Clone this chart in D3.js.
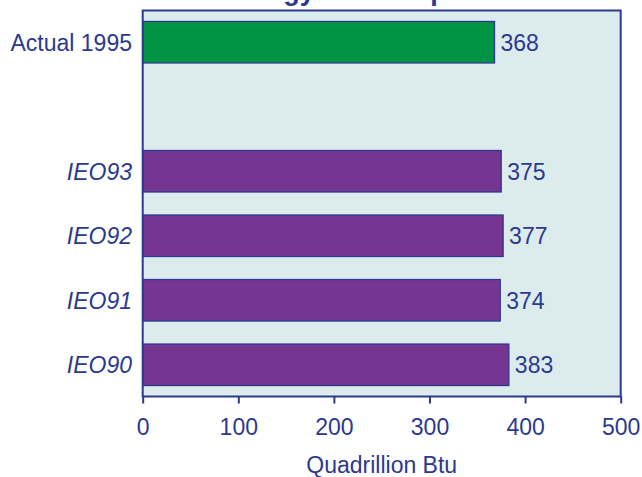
<!DOCTYPE html>
<html>
<head>
<meta charset="utf-8">
<script src="https://cdn.jsdelivr.net/npm/d3@7"></script>
<style>
  html, body { margin: 0; padding: 0; background: #ffffff; }
  svg { display: block; font-family: "Liberation Sans", Arial, Helvetica, sans-serif; }
</style>
</head>
<body>
<svg id="chart" width="642" height="477"></svg>
<script>
// ---- data ----
const title = "World Energy Consumption";
const categories = ["Actual 1995", "", "IEO93", "IEO92", "IEO91", "IEO90"];
const values = [368, null, 375, 377, 374, 383];
const seriesKind = ["actual", null, "forecast", "forecast", "forecast", "forecast"];
const xTicks = [0, 100, 200, 300, 400, 500];
const xLabel = "Quadrillion Btu";

// ---- styles ----
const textColor = "#2b3990";
const borderColor = "#2b3990";
const plotBg = "#dcecec";
const kindColor = { actual: "#009444", forecast: "#773592" };
const fs = 23;

const svg = d3.select("#chart");
const plot = { left: 142.7, right: 620.7, top: 10.5, bottom: 396.5 };

const x = d3.scaleLinear().domain([0, 500]).range([plot.left, plot.right]);
const y = d3.scaleBand()
  .domain(categories.map((c, i) => i))
  .range([plot.top, plot.bottom])
  .paddingInner(0.357)
  .paddingOuter(0.17);

// title (clipped at top as in reference)
svg.append("text")
  .attr("x", 318).attr("y", -0.5)
  .attr("text-anchor", "middle")
  .attr("font-size", 27).attr("font-weight", "bold")
  .attr("fill", textColor)
  .text(title);

// plot background
svg.append("rect")
  .attr("x", plot.left).attr("y", plot.top)
  .attr("width", plot.right - plot.left).attr("height", plot.bottom - plot.top)
  .attr("fill", plotBg);

const rows = categories.map((c, i) => ({ c, i, v: values[i], k: seriesKind[i] }))
  .filter(d => d.v != null);

// bars
svg.append("g").selectAll("rect").data(rows).join("rect")
  .attr("x", x(0))
  .attr("y", d => y(d.i))
  .attr("width", d => x(d.v) - x(0))
  .attr("height", y.bandwidth())
  .attr("fill", d => kindColor[d.k])
  .attr("stroke", borderColor)
  .attr("stroke-width", 1.3);

// value labels
svg.append("g").selectAll("text").data(rows).join("text")
  .attr("x", d => x(d.v) + 6)
  .attr("y", d => y(d.i) + y.bandwidth() / 2 + 8.5)
  .attr("font-size", fs)
  .attr("fill", textColor)
  .text(d => d.v);

// category labels
svg.append("g").selectAll("text").data(rows).join("text")
  .attr("x", 132)
  .attr("y", d => y(d.i) + y.bandwidth() / 2 + 8.5)
  .attr("text-anchor", "end")
  .attr("font-size", fs)
  .attr("font-style", d => d.k === "forecast" ? "italic" : "normal")
  .attr("fill", textColor)
  .text(d => d.c);

// plot border
svg.append("rect")
  .attr("x", plot.left).attr("y", plot.top)
  .attr("width", plot.right - plot.left).attr("height", plot.bottom - plot.top)
  .attr("fill", "none")
  .attr("stroke", borderColor)
  .attr("stroke-width", 2);

// x axis
const xAxis = svg.append("g")
  .attr("transform", `translate(0,${plot.bottom})`)
  .call(d3.axisBottom(x).tickValues(xTicks).tickSize(7).tickFormat(d3.format("d")));
xAxis.select(".domain").remove();
xAxis.selectAll(".tick line").attr("stroke", borderColor).attr("stroke-width", 2);
xAxis.selectAll(".tick text")
  .attr("y", 38).attr("dy", "0")
  .attr("font-size", fs)
  .attr("font-family", "'Liberation Sans', Arial, sans-serif")
  .attr("fill", textColor);

// x label
svg.append("text")
  .attr("x", (plot.left + plot.right) / 2).attr("y", 472.5)
  .attr("text-anchor", "middle")
  .attr("font-size", fs)
  .attr("fill", textColor)
  .text(xLabel);
</script>
</body>
</html>
